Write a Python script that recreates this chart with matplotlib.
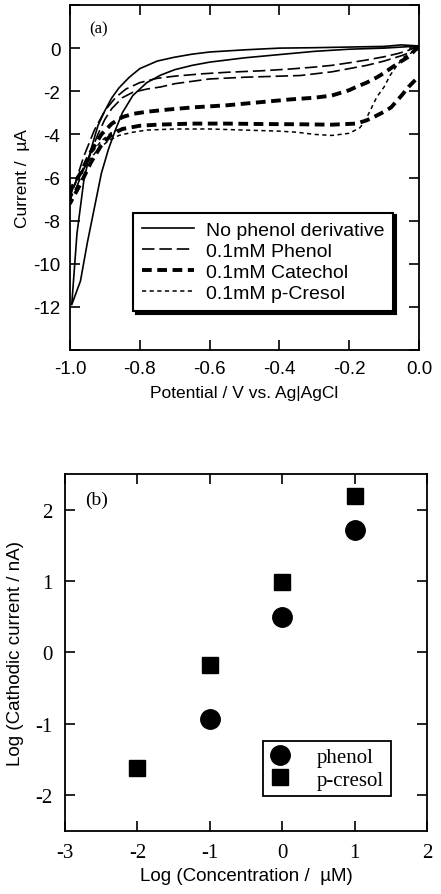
import matplotlib
matplotlib.use("Agg")
import matplotlib.pyplot as plt

plt.rcParams['axes.unicode_minus'] = False
plt.rcParams['lines.scale_dashes'] = False

SANS = ['Liberation Sans', 'DejaVu Sans']
SERIF = ['Liberation Serif', 'DejaVu Serif']

# ---- (a) cyclic voltammograms: potential (V) / current (uA), two branches each
nophenol_v_fwd = [0.0, -0.05, -0.1, -0.2, -0.3, -0.4, -0.5, -0.6, -0.65, -0.7, -0.75, -0.8,
                  -0.83, -0.86, -0.88, -0.9, -0.92, -0.94, -0.96, -0.98, -0.995]
nophenol_i_fwd = [0.1, 0.15, 0.08, 0.05, 0.02, 0.0, -0.08, -0.18, -0.28, -0.42, -0.6, -0.95,
                  -1.35, -1.85, -2.3, -2.9, -3.6, -4.7, -6.1, -8.6, -11.9]
nophenol_v_rev = [-0.995, -0.97, -0.95, -0.93, -0.91, -0.89, -0.87, -0.85, -0.82, -0.78, -0.74,
                  -0.7, -0.65, -0.6, -0.55, -0.5, -0.4, -0.3, -0.2, -0.1, 0.0]
nophenol_i_rev = [-11.9, -10.8, -9.0, -7.4, -5.8, -4.7, -3.8, -3.0, -2.2, -1.6, -1.25,
                  -1.0, -0.8, -0.65, -0.55, -0.45, -0.3, -0.15, -0.05, 0.0, 0.1]

phenol_v_fwd = [0.0, -0.03, -0.06, -0.1, -0.15, -0.2, -0.25, -0.3, -0.37, -0.45, -0.55, -0.62,
                -0.7, -0.75, -0.8, -0.84, -0.87, -0.9, -0.93, -0.96, -0.98, -1.0]
phenol_i_fwd = [0.1, -0.1, -0.25, -0.4, -0.55, -0.68, -0.8, -0.88, -0.97, -1.05, -1.12, -1.19,
                -1.3, -1.4, -1.6, -1.9, -2.3, -2.9, -3.8, -5.0, -6.0, -7.0]
phenol_v_rev = [-1.0, -0.98, -0.96, -0.94, -0.92, -0.9, -0.88, -0.85, -0.82, -0.78, -0.74,
                -0.7, -0.6, -0.5, -0.4, -0.34, -0.25, -0.2, -0.15, -0.1, -0.05, 0.0]
phenol_i_rev = [-7.0, -6.4, -5.6, -4.8, -4.0, -3.3, -2.8, -2.3, -2.05, -1.9, -1.8,
                -1.65, -1.43, -1.35, -1.3, -1.27, -1.1, -0.95, -0.8, -0.6, -0.35, -0.05]

catechol_v_fwd = [0.0, -0.03, -0.06, -0.1, -0.12, -0.15, -0.18, -0.2, -0.25, -0.3, -0.37,
                  -0.45, -0.55, -0.65, -0.72, -0.78, -0.82, -0.85, -0.88, -0.91, -0.94, -0.97, -1.0]
catechol_i_fwd = [0.1, -0.4, -0.7, -1.15, -1.35, -1.6, -1.8, -1.95, -2.2, -2.3, -2.38,
                  -2.5, -2.65, -2.75, -2.85, -2.95, -3.05, -3.2, -3.5, -4.0, -4.8, -5.8, -6.6]
catechol_v_rev = [-1.0, -0.97, -0.94, -0.91, -0.88, -0.85, -0.8, -0.75, -0.65, -0.55, -0.45,
                  -0.35, -0.25, -0.18, -0.15, -0.13, -0.1, -0.08, -0.05, -0.03, 0.0]
catechol_i_rev = [-7.2, -6.3, -5.3, -4.5, -4.0, -3.75, -3.6, -3.55, -3.5, -3.5, -3.52,
                  -3.53, -3.55, -3.5, -3.35, -3.2, -2.95, -2.75, -2.2, -1.8, -1.3]

cresol_v_fwd = [0.0, -0.02, -0.045, -0.065, -0.083, -0.1, -0.121, -0.14, -0.155, -0.17, -0.2,
                -0.25, -0.3, -0.35, -0.4, -0.5, -0.6, -0.7, -0.78, -0.82, -0.86, -0.89, -0.92,
                -0.95, -0.98, -1.0]
cresol_i_fwd = [0.1, -0.2, -0.43, -0.85, -1.27, -1.8, -2.27, -2.9, -3.4, -3.7, -3.95,
                -4.05, -4.0, -3.9, -3.85, -3.8, -3.75, -3.75, -3.8, -3.9, -4.05, -4.3, -4.7,
                -5.3, -6.1, -6.8]
cresol_v_rev = [-1.0, -0.97, -0.94, -0.91, -0.88, -0.85]
cresol_i_rev = [-6.8, -5.8, -4.9, -4.3, -3.9, -3.7]

cv_labels = ['No phenol derivative', '0.1mM Phenol', '0.1mM Catechol', '0.1mM p-Cresol']

# ---- (b) calibration: log concentration (uM) vs log cathodic current (nA)
phenol_logc = [-1, 0, 1]
phenol_logi = [-0.93, 0.49, 1.72]
cresol_logc = [-2, -1, 0, 1]
cresol_logi = [-1.62, -0.17, 0.99, 2.19]

fig = plt.figure(figsize=(4.41, 8.95), dpi=100)

# ---------------- panel (a)
ax = fig.add_axes([0.1587, 0.6078, 0.7914, 0.3855])
styles = [
    dict(color='k', lw=1.2, linestyle='-'),
    dict(color='k', lw=1.2, dashes=(9, 3.5)),
    dict(color='k', lw=2.8, dashes=(7, 4)),
    dict(color='k', lw=1.1, dashes=(3, 2.5)),
]
curves = [
    (nophenol_v_fwd + nophenol_v_rev, nophenol_i_fwd + nophenol_i_rev),
    (phenol_v_fwd + phenol_v_rev, phenol_i_fwd + phenol_i_rev),
    (catechol_v_fwd + catechol_v_rev, catechol_i_fwd + catechol_i_rev),
    (cresol_v_fwd + cresol_v_rev, cresol_i_fwd + cresol_i_rev),
]
for (v, i), st, lab in zip(curves, styles, cv_labels):
    ax.plot(v, i, label=lab, **st)

ax.set_xlim(-1.0, 0.0)
ax.set_ylim(-14, 2)
ax.set_xticks([-1.0, -0.8, -0.6, -0.4, -0.2, 0.0])
ax.set_xticklabels(['-1.0', '-0.8', '-0.6', '-0.4', '-0.2', '0.0'])
ax.set_yticks([-14, -12, -10, -8, -6, -4, -2, 0, 2])
ax.set_yticklabels(['', '-12', '-10', '-8', '-6', '-4', '-2', '0', ''])
ax.tick_params(direction='in', top=True, right=True, length=7, width=1.2, labelsize=13.5, pad=7)
for lab in ax.get_xticklabels() + ax.get_yticklabels():
    lab.set_family(SANS)
for s in ax.spines.values():
    s.set_linewidth(1.3)
ax.set_xlabel('Potential / V vs. Ag|AgCl', family=SANS, fontsize=12.5, labelpad=6)
ax.set_ylabel('Current /  \u00b5A', family=SANS, fontsize=12.5, labelpad=2)
ax.text(0.055, 0.92, '(a)', transform=ax.transAxes, family=SERIF, fontsize=12)

leg = ax.legend(loc='lower left', bbox_to_anchor=(0.18, 0.113), borderaxespad=0,
                prop={'family': SANS, 'size': 14}, handlelength=2.7, handletextpad=0.6,
                labelspacing=0.18, borderpad=0.45, fancybox=False, framealpha=1,
                edgecolor='k', shadow={'color': 'black', 'alpha': 1})
leg.get_frame().set_linewidth(1.5)

# ---------------- panel (b)
bx = fig.add_axes([0.1474, 0.0704, 0.8209, 0.3989])
bx.plot(phenol_logc, phenol_logi, 'o', color='k', ms=14, label='phenol')
bx.plot(cresol_logc, cresol_logi, 's', color='k', ms=11.5, label='p-cresol')
bx.set_xlim(-3, 2)
bx.set_ylim(-2.5, 2.5)
bx.set_xticks([-3, -2, -1, 0, 1, 2])
bx.set_yticks([-2, -1, 0, 1, 2])
bx.tick_params(direction='in', top=True, right=True, length=7, width=1.2, labelsize=15, pad=9)
for lab in bx.get_xticklabels() + bx.get_yticklabels():
    lab.set_family(SERIF)
for s in bx.spines.values():
    s.set_linewidth(1.3)
bx.set_xlabel('Log (Concentration /  \u00b5M)', family=SANS, fontsize=13.5, labelpad=3)
bx.set_ylabel('Log (Cathodic current / nA)', family=SANS, fontsize=13.5, labelpad=8)
bx.text(0.055, 0.915, '(b)', transform=bx.transAxes, family=SERIF, fontsize=14)

leg2 = bx.legend(loc='lower left', bbox_to_anchor=(0.547, 0.098), borderaxespad=0,
                 prop={'family': SERIF, 'size': 15}, handlelength=1.0, handletextpad=1.3,
                 labelspacing=0.15, borderpad=0.3, fancybox=False, framealpha=1,
                 edgecolor='k')
leg2.get_frame().set_linewidth(1.3)

fig.savefig('out.png', dpi=100)
